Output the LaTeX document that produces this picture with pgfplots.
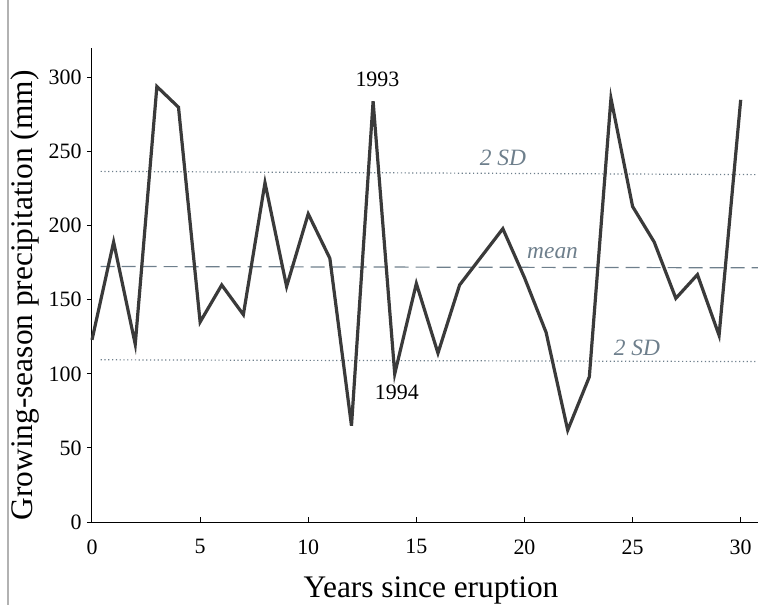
\documentclass[border=0pt]{standalone}
\usepackage{pgfplots}
\pgfplotsset{compat=1.18}
\usepackage{fontspec}
\setmainfont{Liberation Serif}
\definecolor{refc}{HTML}{6E7F8C}
\definecolor{linec}{HTML}{3A3A3A}
\begin{document}
\begin{tikzpicture}
\path[use as bounding box] (-92bp,-83bp) rectangle (666bp,522bp);
\draw[gray!60, line width=2.5bp] (-84bp,-83bp) -- (-84bp,522bp);
\begin{axis}[
  at={(0bp,0bp)}, anchor=south west,
  scale only axis, width=666bp, height=474bp,
  xmin=0, xmax=30.8, ymin=0, ymax=320,
  axis x line=bottom, axis y line=left,
  axis line style={-, line width=1bp, black},
  xtick={0,5,...,30}, ytick={0,50,...,300},
  xtick align=inside, ytick align=outside,
  major tick length=5bp,
  tick style={line width=1bp, black},
  ticklabel style={font=\fontsize{22}{26}\selectfont},
  xticklabel style={yshift=-14bp},
  yticklabel style={xshift=-2bp},
  /pgf/number format/assume math mode=true,
  xlabel={Years since eruption},
  ylabel={Growing-season precipitation (mm)},
  label style={font=\fontsize{31.5}{36}\selectfont},
  xlabel style={at={(axis description cs:0.509,0)}, anchor=base, yshift=-75bp},
  ylabel style={at={([xshift=-67bp]axis description cs:0,0.478)}, anchor=center},
  clip=false,
]
\addplot[refc, line width=1.2bp, dash pattern=on 14bp off 7bp] coordinates {(0.4,172.5) (30.8,171.6)};
\addplot[refc, line width=1.2bp, dash pattern=on 1.2bp off 2.6bp] coordinates {(0.4,236.7) (30.8,234.5)};
\addplot[refc, line width=1.2bp, dash pattern=on 1.2bp off 2.6bp] coordinates {(0.4,109.5) (30.8,108.3)};
\addplot[linec, line width=3.2bp] coordinates {
(0,123) (1,189) (2,120) (3,294) (4,280) (5,135) (6,160) (7,140) (8,229) (9,159)
(10,208) (11,178) (12,65) (13,284) (14,100) (15,161) (16,114) (17,160) (18,179) (19,198)
(20,165) (21,128) (22,62) (23,98) (24,286) (25,213) (26,189) (27,151) (28,167) (29,126) (30,285)
};
\node[font=\fontsize{22}{26}\selectfont] at (axis cs:13.2,298.6) {1993};
\node[font=\fontsize{22}{26}\selectfont] at (axis cs:14.1,87.8) {1994};
\node[font=\fontsize{23.5}{27}\selectfont\itshape, text=refc] at (axis cs:19.0,246) {2 SD};
\node[font=\fontsize{23.5}{27}\selectfont\itshape, text=refc] at (axis cs:21.3,181.5) {mean};
\node[font=\fontsize{23.5}{27}\selectfont\itshape, text=refc] at (axis cs:25.2,117.6) {2 SD};
\end{axis}
\end{tikzpicture}
\end{document}
